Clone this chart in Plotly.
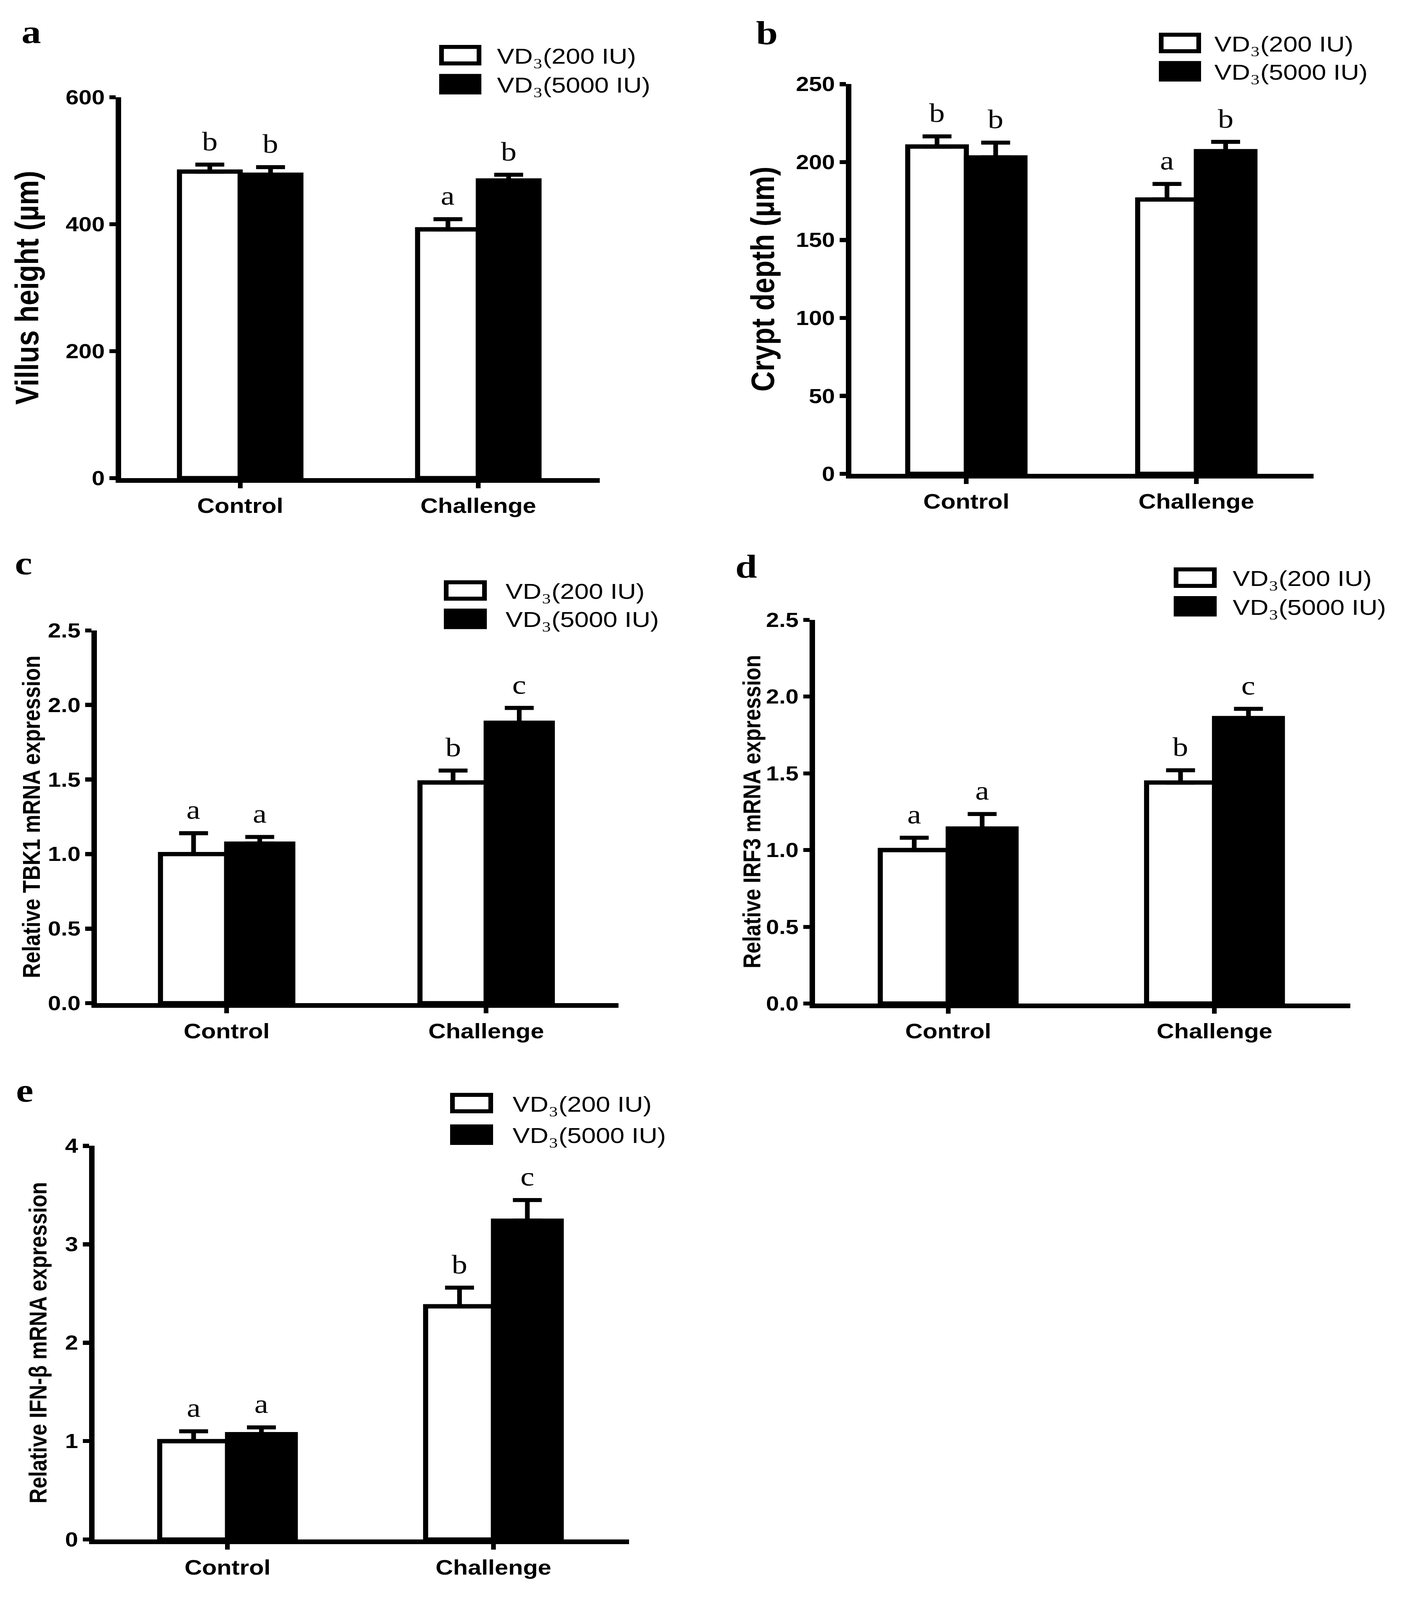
import plotly.graph_objects as go

W, H = 3619, 4789

categories = ["Control", "Challenge"]
SUB3 = '<span style="font-family:Liberation Serif, DejaVu Serif; font-size:74px">₃</span>'
series_names = ["VD" + SUB3 + "(200 IU)", "VD" + SUB3 + "(5000 IU)"]
trace_names = ["VD3(200 IU)", "VD3(5000 IU)"]

# Panel a: villus height
villus_200 = [483, 392]
villus_200_err = [11, 16]
villus_5000 = [478, 469]
villus_5000_err = [12, 9]
villus_letters_200 = ["b", "a"]
villus_letters_5000 = ["b", "b"]
villus_ticks = [0, 200, 400, 600]

# Panel b: crypt depth
crypt_200 = [210, 176]
crypt_200_err = [6.5, 10]
crypt_5000 = [203, 207]
crypt_5000_err = [9.5, 6]
crypt_letters_200 = ["b", "a"]
crypt_letters_5000 = ["b", "b"]
crypt_ticks = [0, 50, 100, 150, 200, 250]

# Panel c: TBK1
tbk1_200 = [1.00, 1.48]
tbk1_200_err = [0.14, 0.08]
tbk1_5000 = [1.07, 1.88]
tbk1_5000_err = [0.045, 0.10]
tbk1_letters_200 = ["a", "b"]
tbk1_letters_5000 = ["a", "c"]
rel_ticks = [0.0, 0.5, 1.0, 1.5, 2.0, 2.5]

# Panel d: IRF3
irf3_200 = [1.00, 1.44]
irf3_200_err = [0.08, 0.08]
irf3_5000 = [1.14, 1.86]
irf3_5000_err = [0.095, 0.06]
irf3_letters_200 = ["a", "b"]
irf3_letters_5000 = ["a", "c"]

# Panel e: IFN-beta
ifnb_200 = [1.00, 2.37]
ifnb_200_err = [0.10, 0.19]
ifnb_5000 = [1.07, 3.24]
ifnb_5000_err = [0.07, 0.21]
ifnb_letters_200 = ["a", "b"]
ifnb_letters_5000 = ["a", "c"]
ifnb_ticks = [0, 1, 2, 3, 4]

panel_labels = ["a", "b", "c", "d", "e"]
y_titles = [
    "Villus height (µm)",
    "Crypt depth (µm)",
    "Relative TBK1 mRNA expression",
    "Relative IRF3 mRNA expression",
    "Relative IFN-β mRNA expression",
]

panels = [
    dict(v1=villus_200, e1=villus_200_err, v2=villus_5000, e2=villus_5000_err,
         l1=villus_letters_200, l2=villus_letters_5000, ticks=villus_ticks, fmt="d"),
    dict(v1=crypt_200, e1=crypt_200_err, v2=crypt_5000, e2=crypt_5000_err,
         l1=crypt_letters_200, l2=crypt_letters_5000, ticks=crypt_ticks, fmt="d"),
    dict(v1=tbk1_200, e1=tbk1_200_err, v2=tbk1_5000, e2=tbk1_5000_err,
         l1=tbk1_letters_200, l2=tbk1_letters_5000, ticks=rel_ticks, fmt=".1f"),
    dict(v1=irf3_200, e1=irf3_200_err, v2=irf3_5000, e2=irf3_5000_err,
         l1=irf3_letters_200, l2=irf3_letters_5000, ticks=rel_ticks, fmt=".1f"),
    dict(v1=ifnb_200, e1=ifnb_200_err, v2=ifnb_5000, e2=ifnb_5000_err,
         l1=ifnb_letters_200, l2=ifnb_letters_5000, ticks=ifnb_ticks, fmt="d"),
]

# Layout geometry in reference pixels: (left, right, top, bottom) of each plot area
boxes = [
    (310, 1535, 262, 1418),
    (2179, 3362, 222, 1405),
    (248, 1583, 1880, 3012),
    (2086, 3456, 1848, 3013),
    (242, 1610, 3445, 4640),
]
title_x = [69, 1952, 81, 1925, 98]
title_size = [84, 84, 62, 62, 62]
label_pos = [(80, 63), (1963, 66), (60, 1676), (1910, 1686), (63, 3276)]
legend_pos = [  # box_left, box_right, row1_y, row2_y, text_x
    (1130, 1226, 134, 222, 1270),
    (2972, 3068, 97, 183, 3106),
    (1142, 1240, 1759, 1845, 1292),
    (3010, 3108, 1720, 1807, 3153),
    (1158, 1256, 3315, 3411, 1310),
]


def px(x):
    return x / W


def py(y):
    return 1 - y / H


BARGAP = 0.49
OFFSET = (1 - BARGAP) / 4
SANS = "Liberation Sans"
SERIF = "Liberation Serif"

fig = go.Figure()
annotations = []
shapes = []

for i, p in enumerate(panels):
    sfx = "" if i == 0 else str(i + 1)
    xa, ya = "x" + sfx, "y" + sfx
    for k, (vals, errs, fill) in enumerate([(p["v1"], p["e1"], "white"), (p["v2"], p["e2"], "black")]):
        fig.add_trace(go.Bar(
            x=categories, y=vals, name=trace_names[k],
            marker=dict(color=fill, line=dict(color="black", width=13)),
            error_y=dict(type="data", array=errs, arrayminus=[0] * len(errs), symmetric=False,
                         color="black", thickness=12, width=37),
            offsetgroup=str(k), xaxis=xa, yaxis=ya, showlegend=False,
        ))
        letters = p["l1"] if k == 0 else p["l2"]
        sign = -1 if k == 0 else 1
        for j in range(len(categories)):
            annotations.append(dict(
                x=j + sign * OFFSET, y=vals[j] + errs[j], xref=xa, yref=ya,
                text=letters[j], showarrow=False, yanchor="bottom", xanchor="center",
                yshift=24, font=dict(family=SERIF, size=80, color="black"),
            ))

    left, right, top, bottom = boxes[i]
    axis_style = dict(showline=True, linecolor="black", linewidth=14, ticks="outside",
                      ticklen=16, tickwidth=12, tickcolor="black", showgrid=False,
                      zeroline=False)
    fig.layout["xaxis" + sfx] = dict(domain=[px(left), px(right)], anchor=ya,
                                     range=[-0.5, 1.51], type="category",
                                     tickfont=dict(family=SANS, size=62, color="black", weight="bold"),
                                     **axis_style)
    fig.layout["yaxis" + sfx] = dict(domain=[py(bottom), py(top)], anchor=xa,
                                     range=[0, p["ticks"][-1]], tickvals=p["ticks"],
                                     tickformat=p["fmt"],
                                     tickfont=dict(family=SANS, size=60, color="black", weight="bold"),
                                     **axis_style)

    # y-axis title
    annotations.append(dict(
        x=px(title_x[i]), y=(py(bottom) + py(top)) / 2, xref="paper", yref="paper",
        text=y_titles[i], textangle=-90, showarrow=False, xanchor="center", yanchor="middle",
        font=dict(family=SANS, size=title_size[i], color="black", weight="bold"),
    ))
    # panel label
    lx, ly = label_pos[i]
    annotations.append(dict(
        x=px(lx), y=py(ly), xref="paper", yref="paper", text=panel_labels[i],
        showarrow=False, xanchor="center", yanchor="middle",
        font=dict(family=SERIF, size=100, color="black", weight="bold"),
    ))
    # legend
    bl, br, r1, r2, tx = legend_pos[i]
    for k, (ry, fill) in enumerate([(r1, "white"), (r2, "black")]):
        shapes.append(dict(type="rect", xref="paper", yref="paper",
                           x0=px(bl), x1=px(br), y0=py(ry + 25), y1=py(ry - 25),
                           fillcolor=fill, line=dict(color="black", width=12)))
        annotations.append(dict(
            x=px(tx), y=py(ry), xref="paper", yref="paper", text=series_names[k],
            showarrow=False, xanchor="left", yanchor="middle",
            font=dict(family=SANS, size=66, color="black"),
        ))

fig.update_layout(
    width=W, height=H, autosize=False, margin=dict(l=0, r=0, t=0, b=0),
    paper_bgcolor="white", plot_bgcolor="white",
    barmode="group", bargap=BARGAP, bargroupgap=0,
    annotations=annotations, shapes=shapes, showlegend=False,
)

# Map the 3619x4789 figure exactly onto the browser viewport, whatever its real size.
fit_script = """
var gd = document.getElementById('{plot_id}');
document.documentElement.style.overflow = 'hidden';
document.body.style.margin = '0';
document.body.style.overflow = 'hidden';
gd.style.position = 'fixed';
gd.style.left = '0px';
gd.style.top = '0px';
gd.style.transformOrigin = '0 0';
var sx = window.innerWidth / %d, sy = window.innerHeight / %d;
gd.style.transform = 'scale(' + sx + ',' + sy + ')';
""" % (W, H)

fig.write_html(
    "out.html",
    config={"displayModeBar": False, "responsive": False},
    post_script=fit_script,
)
